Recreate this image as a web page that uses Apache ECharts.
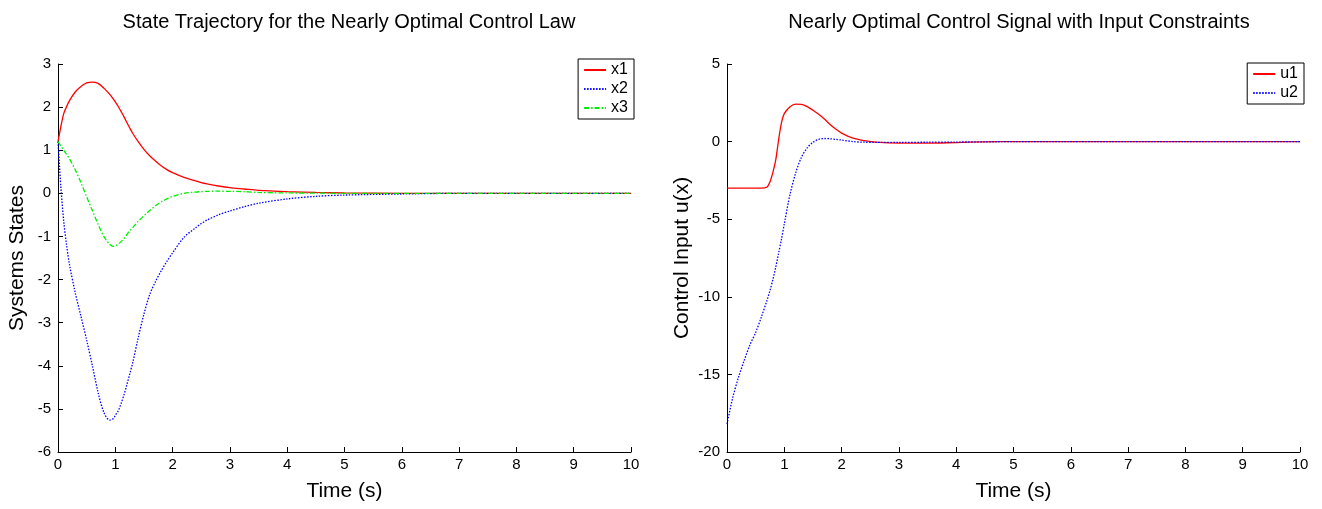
<!DOCTYPE html>
<html>
<head>
<meta charset="utf-8">
<script src="https://cdn.jsdelivr.net/npm/echarts@6/dist/echarts.min.js"></script>
<style>
html, body { margin: 0; padding: 0; background: #fff; }
#ecMain { width: 1322px; height: 509px; }
</style>
</head>
<body>
<div id="ecMain"></div>
<script>
// state trajectory (left)
var tStates = [0, 0.05, 0.1, 0.15, 0.2, 0.3, 0.4, 0.5, 0.6, 0.7, 0.8, 0.9, 0.97, 1.0, 1.05, 1.1, 1.15, 1.2, 1.25, 1.3, 1.4, 1.5, 1.6, 1.7, 1.8, 1.9, 2.0, 2.2, 2.4, 2.5, 2.6, 2.8, 3.0, 3.25, 3.5, 4.0, 4.5, 5.0, 6.0, 7.0, 8.0, 9.0, 10.0];
var x1 = [1.2, 1.55, 1.85, 2.01, 2.15, 2.35, 2.48, 2.56, 2.58, 2.55, 2.44, 2.3, 2.18, 2.12, 2.02, 1.9, 1.78, 1.65, 1.52, 1.4, 1.2, 1.02, 0.87, 0.75, 0.64, 0.55, 0.48, 0.37, 0.29, 0.25, 0.22, 0.17, 0.13, 0.1, 0.07, 0.04, 0.02, 0.01, 0.0, 0.0, 0.0, 0.0, 0.0];
var x2 = [1.2, 0.15, -0.65, -1.2, -1.65, -2.3, -2.85, -3.4, -4.0, -4.62, -5.08, -5.26, -5.22, -5.15, -5.05, -4.88, -4.68, -4.45, -4.2, -3.95, -3.35, -2.8, -2.35, -2.05, -1.8, -1.58, -1.38, -1.02, -0.8, -0.7, -0.62, -0.5, -0.41, -0.31, -0.23, -0.13, -0.07, -0.04, -0.015, 0.0, 0.0, 0.0, 0.0];
var x3 = [1.2, 1.1, 1.0, 0.9, 0.8, 0.55, 0.25, -0.08, -0.4, -0.72, -1.0, -1.18, -1.23, -1.22, -1.18, -1.12, -1.05, -0.96, -0.87, -0.8, -0.65, -0.52, -0.4, -0.29, -0.2, -0.13, -0.07, 0.0, 0.03, 0.04, 0.045, 0.05, 0.045, 0.04, 0.02, 0.01, 0.005, 0.0, 0.0, 0.0, 0.0, 0.0, 0.0];

// control signal (right)
var tCtrl = [0, 0.1, 0.2, 0.3, 0.4, 0.5, 0.6, 0.7, 0.75, 0.8, 0.85, 0.9, 0.95, 1.0, 1.1, 1.2, 1.3, 1.4, 1.5, 1.6, 1.7, 1.8, 1.9, 2.0, 2.2, 2.4, 2.6, 3.0, 3.5, 4.0, 4.7, 5.0, 6.0, 7.0, 8.0, 9.0, 10.0];
var u1 = [-3, -3, -3, -3, -3, -3, -3, -2.92, -2.6, -2.0, -1.2, 0.1, 1.2, 1.8, 2.25, 2.42, 2.4, 2.25, 2.02, 1.76, 1.45, 1.1, 0.8, 0.55, 0.22, 0.06, -0.04, -0.1, -0.1, -0.06, 0.0, 0.0, 0.0, 0.0, 0.0, 0.0, 0.0];
var u2 = [-18.2, -16.5, -15.2, -14.1, -13.1, -12.3, -11.3, -10.2, -9.6, -8.9, -8.1, -7.2, -6.3, -5.3, -3.4, -2.0, -1.0, -0.4, -0.05, 0.15, 0.2, 0.18, 0.14, 0.1, 0.0, -0.04, -0.05, -0.05, -0.04, -0.03, -0.01, 0.0, 0.0, 0.0, 0.0, 0.0, 0.0];

var xTicks = [0, 1, 2, 3, 4, 5, 6, 7, 8, 9, 10];

var fontName = "Liberation Sans, Arial, sans-serif";

function pairs(t, v) {
    var out = [];
    for (var i = 0; i < t.length; i++) {
        out.push([t[i], v[i]]);
    }
    return out;
}

function xAxisCfg(idx) {
    return {
        type: 'value',
        gridIndex: idx,
        min: xTicks[0],
        max: xTicks[xTicks.length - 1],
        interval: 1,
        name: 'Time (s)',
        nameLocation: 'middle',
        nameGap: 29,
        nameTextStyle: { fontSize: 21, color: '#000', fontFamily: fontName },
        axisLine: { onZero: false, lineStyle: { color: '#000', width: 1 } },
        axisTick: { inside: true, length: 5, lineStyle: { color: '#000' } },
        axisLabel: { color: '#000', fontSize: 15, fontFamily: fontName, margin: 5 },
        splitLine: { show: false }
    };
}

function yAxisCfg(idx, name, min, max, step, gap) {
    return {
        type: 'value',
        gridIndex: idx,
        min: min,
        max: max,
        interval: step,
        name: name,
        nameLocation: 'middle',
        nameGap: gap,
        nameTextStyle: { fontSize: 21, color: '#000', fontFamily: fontName },
        axisLine: { show: true, onZero: false, lineStyle: { color: '#000', width: 1 } },
        axisTick: { show: true, inside: true, length: 5, lineStyle: { color: '#000' } },
        axisLabel: { color: '#000', fontSize: 15, fontFamily: fontName, margin: 7 },
        splitLine: { show: false }
    };
}

function lineSeries(name, xi, data, color, dash) {
    return {
        name: name,
        type: 'line',
        xAxisIndex: xi,
        yAxisIndex: xi,
        data: data,
        symbol: 'none',
        smooth: 0.3,
        animation: false,
        lineStyle: { color: color, width: 1.3, type: dash },
        itemStyle: { color: color }
    };
}

function legendCfg(names, right, top) {
    return {
        data: names,
        orient: 'vertical',
        right: right, top: top,
        backgroundColor: '#fff',
        borderColor: '#000', borderWidth: 1, borderRadius: 0,
        padding: [3, 6, 3, 5],
        itemGap: 3, itemWidth: 22, itemHeight: 14,
        itemStyle: { opacity: 0 },
        textStyle: { fontSize: 16, color: '#000', fontFamily: fontName }
    };
}

var option = {
    backgroundColor: '#fff',
    animation: false,
    title: [
        {
            text: 'State Trajectory for the Nearly Optimal Control Law',
            left: 344, top: 7, textAlign: 'center',
            textStyle: { fontSize: 20, fontWeight: 'normal', color: '#000', fontFamily: fontName }
        },
        {
            text: 'Nearly Optimal Control Signal with Input Constraints',
            left: 1014, top: 7, textAlign: 'center',
            textStyle: { fontSize: 20, fontWeight: 'normal', color: '#000', fontFamily: fontName }
        }
    ],
    legend: [
        legendCfg(['x1', 'x2', 'x3'], 688, 59),
        legendCfg(['u1', 'u2'], 18, 63)
    ],
    grid: [
        { left: 58, top: 64, width: 573, bottom: 57, containLabel: false },
        { left: 727, top: 64, width: 573, bottom: 57, containLabel: false }
    ],
    xAxis: [xAxisCfg(0), xAxisCfg(1)],
    yAxis: [
        yAxisCfg(0, 'Systems States', -6, 3, 1, 30),
        yAxisCfg(1, 'Control Input u(x)', -20, 5, 5, 34)
    ],
    series: [
        lineSeries('x1', 0, pairs(tStates, x1), '#ff0000', 'solid'),
        lineSeries('x2', 0, pairs(tStates, x2), '#0000ff', [1.5, 1.5]),
        lineSeries('x3', 0, pairs(tStates, x3), '#00ee00', [5, 2, 1.5, 2]),
        lineSeries('u1', 1, pairs(tCtrl, u1), '#ff0000', 'solid'),
        lineSeries('u2', 1, pairs(tCtrl, u2), '#0000ff', [1.5, 1.5])
    ]
};

var chart = echarts.init(document.getElementById('ecMain'));
chart.setOption(option);
window.addEventListener('resize', function () {
    chart.resize();
});
</script>
</body>
</html>
